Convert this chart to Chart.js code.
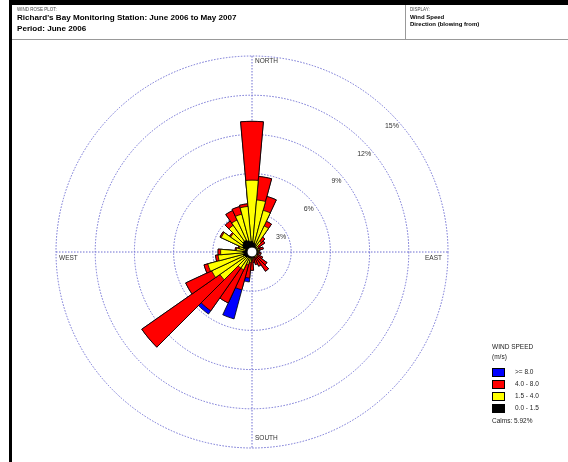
<!DOCTYPE html>
<html>
<head>
<meta charset="utf-8">
<script src="https://cdn.jsdelivr.net/npm/chart.js@4/dist/chart.umd.min.js"></script>
<style>
  body { margin: 0; width: 568px; height: 462px; position: relative; background: #fff; font-family: "Liberation Sans", Arial, sans-serif; overflow: hidden; }
  #wrap { position: absolute; left: 0; top: 0; width: 568px; height: 462px; }
  .topbar { position: absolute; left: 9px; top: 0; width: 559px; height: 5px; background: #000; }
  .leftbar { position: absolute; left: 9px; top: 0; width: 3px; height: 462px; background: #000; }
  .hdrline { position: absolute; left: 12px; top: 39px; width: 556px; height: 1px; background: #999; }
  .divider { position: absolute; left: 405px; top: 5px; width: 1px; height: 34px; background: #999; }
  .tiny { position: absolute; font-size: 4.5px; color: #444; }
  .title { position: absolute; left: 17px; font-size: 8.1px; font-weight: bold; color: #000; white-space: nowrap; }
  .disp { position: absolute; left: 410px; font-size: 6px; font-weight: bold; color: #000; white-space: nowrap; }
  #legend { position: absolute; left: 492px; top: 343px; font-size: 6.5px; color: #222; }
  #legend .row { position: absolute; left: 0; width: 80px; height: 9px; }
  #legend .sw { position: absolute; left: 0; top: 0; width: 11px; height: 7px; border: 1px solid #000; }
  #legend .lb { position: absolute; left: 23px; top: 0; white-space: nowrap; }
</style>
</head>
<body>
<div id="wrap"><canvas id="rose" width="568" height="462"></canvas></div>
<div class="topbar"></div>
<div class="leftbar"></div>
<div class="hdrline"></div>
<div class="divider"></div>
<div class="tiny" style="left:17px;top:7px;">WIND ROSE PLOT:</div>
<div class="title" style="top:13px;">Richard's Bay Monitoring Station: June 2006 to May 2007</div>
<div class="title" style="top:24px;">Period: June 2006</div>
<div class="tiny" style="left:410px;top:7px;">DISPLAY:</div>
<div class="disp" style="top:14px;">Wind Speed</div>
<div class="disp" style="top:21px;">Direction (blowing from)</div>
<div id="legend"></div>
<script>
// 36 sectors, 10 degrees each, starting at north, clockwise
const directions = [0,10,20,30,40,50,60,70,80,90,100,110,120,130,140,150,160,170,
                    180,190,200,210,220,230,240,250,260,270,280,290,300,310,320,330,340,350];

// frequency (%) per speed class
const speed0to15 = [0.8,0.7,0.6,0.5,0.4,0.3,0.2,0.2,0.2,0.2,0.2,0.2,0.2,0.2,0.2,0.2,0.2,0.3,
                    0.3,0.4,0.4,0.5,0.5,0.6,0.6,0.7,0.6,0.7,0.5,0.5,0.8,0.9,1.0,1.0,0.9,0.8];
const speed15to40 = [4.7,3.3,2.7,1.7,0.6,0.3,0.3,0.4,0.3,0.2,0.3,0.2,0.2,0.3,0.3,0.2,0.2,0.2,
                     0.3,0.4,0.6,1.0,1.0,2.4,2.8,2.8,2.0,1.7,0.7,0.5,1.8,1.1,1.5,1.7,2.1,2.7];
const speed40to80 = [4.5,1.8,1.1,0.4,0.4,0.6,0.2,0.3,0.1,0.1,0.2,0.1,0.5,0.9,1.3,0.8,0.6,0.3,
                     0.8,1.2,2.0,2.8,4.0,7.3,2.2,0.3,0.2,0.2,0.1,0.1,0.1,0.1,0.4,0.8,0.6,0.2];
const speedOver80 = [0,0,0,0,0,0,0,0,0,0,0,0,0,0,0,0,0,0,
                     0,0.3,2.3,0,0.3,0,0,0,0,0,0,0,0,0,0,0,0,0];

const ringTicks = [3, 6, 9, 12, 15];
const compass = ['NORTH', 'EAST', 'SOUTH', 'WEST'];
const classNames = ['>= 8.0', '4.0 - 8.0', '1.5 - 4.0', '0.0 - 1.5'];
const classColors = ['#0000ff', '#ff0000', '#ffff00', '#000000'];
const calms = 5.92;

// stacked bars: each ring drawn from the centre, so build running totals
function cumulate(parts) {
  return directions.map((d, i) => parts.reduce((s, p) => s + p[i], 0));
}
const cumBlack = cumulate([speed0to15]);
const cumYellow = cumulate([speed0to15, speed15to40]);
const cumRed = cumulate([speed0to15, speed15to40, speed40to80]);
const cumBlue = cumulate([speed0to15, speed15to40, speed40to80, speedOver80]);

const gridColor = '#6e6ed2';

const roseDecor = {
  id: 'roseDecor',
  beforeDatasetsDraw(chart) {
    const s = chart.scales.r, ctx = chart.ctx;
    const cx = s.xCenter, cy = s.yCenter, R = s.drawingArea;
    ctx.save();
    ctx.strokeStyle = gridColor;
    ctx.lineWidth = 1;
    ctx.setLineDash([1.5, 1.5]);
    ctx.beginPath();
    ctx.moveTo(cx, cy - R); ctx.lineTo(cx, cy + R);
    ctx.moveTo(cx - R, cy); ctx.lineTo(cx + R, cy);
    ctx.stroke();
    ctx.setLineDash([]);
    ctx.fillStyle = '#333';
    ctx.font = '6.5px "Liberation Sans", Arial, sans-serif';
    ctx.textBaseline = 'middle';
    ctx.textAlign = 'left';
    ctx.fillText(compass[0], cx + 3, cy - R + 5);
    ctx.fillText(compass[2], cx + 3, cy + R - 10);
    ctx.fillText(compass[3], cx - R + 3, cy + 6);
    ctx.textAlign = 'right';
    ctx.fillText(compass[1], cx + R - 6, cy + 6);
    ctx.textAlign = 'center';
    ctx.font = '7px "Liberation Sans", Arial, sans-serif';
    ringTicks.forEach(t => {
      const k = s.getDistanceFromCenterForValue(t) - 8;
      ctx.fillText(t + '%', cx + k * Math.SQRT1_2 + 7, cy - k * Math.SQRT1_2 + 7);
    });
    ctx.restore();
  },
  afterDatasetsDraw(chart) {
    const s = chart.scales.r, ctx = chart.ctx;
    ctx.save();
    ctx.beginPath();
    ctx.arc(s.xCenter, s.yCenter, 5, 0, Math.PI * 2);
    ctx.fillStyle = '#fff';
    ctx.fill();
    ctx.lineWidth = 1;
    ctx.strokeStyle = '#000';
    ctx.stroke();
    ctx.restore();
  }
};

// dataset 0 is drawn last (on top), so the smallest total goes first
new Chart(document.getElementById('rose'), {
  type: 'polarArea',
  data: {
    labels: directions.map(d => d + '°'),
    datasets: [
      { label: classNames[3], data: cumBlack, backgroundColor: classColors[3] },
      { label: classNames[2], data: cumYellow, backgroundColor: classColors[2] },
      { label: classNames[1], data: cumRed, backgroundColor: classColors[1] },
      { label: classNames[0], data: cumBlue, backgroundColor: classColors[0] }
    ]
  },
  options: {
    responsive: false,
    animation: false,
    layout: { padding: { left: 56, top: 56, right: 120, bottom: 14 } },
    elements: { arc: { borderColor: '#000', borderWidth: 0.8 } },
    plugins: { legend: { display: false }, tooltip: { enabled: false } },
    scales: {
      r: {
        min: 0,
        max: 15,
        startAngle: -5,
        ticks: { display: false, stepSize: 3 },
        grid: { circular: true, color: gridColor, lineWidth: 1, borderDash: [1.5, 1.5] },
        border: { dash: [1.5, 1.5] },
        angleLines: { display: false },
        pointLabels: { display: false }
      }
    }
  },
  plugins: [roseDecor]
});

// legend box
const lg = document.getElementById('legend');
lg.innerHTML = '<div style="position:absolute;left:0;top:0;white-space:nowrap;">WIND SPEED</div>' +
  '<div style="position:absolute;left:0;top:10px;">(m/s)</div>';
classNames.forEach((name, i) => {
  const row = document.createElement('div');
  row.className = 'row';
  row.style.top = (25 + i * 12) + 'px';
  row.innerHTML = '<div class="sw" style="background:' + classColors[i] + '"></div><div class="lb">' + name + '</div>';
  lg.appendChild(row);
});
const cl = document.createElement('div');
cl.style.cssText = 'position:absolute;left:0;top:74px;white-space:nowrap;';
cl.textContent = 'Calms: ' + calms.toFixed(2) + '%';
lg.appendChild(cl);
</script>
</body>
</html>
